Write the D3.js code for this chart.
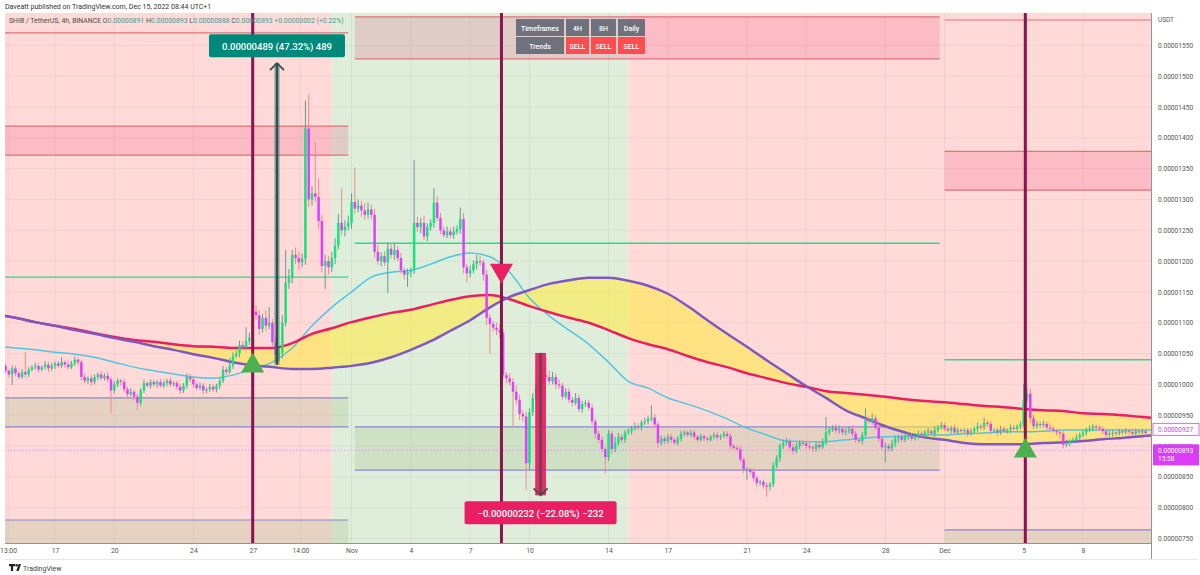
<!DOCTYPE html>
<html>
<head>
<meta charset="utf-8">
<script src="https://cdn.jsdelivr.net/npm/d3@7"></script>
<style>
  body { margin: 0; background: #fff; font-family: Roboto, "Open Sans", sans-serif; }
  svg { display: block; }
</style>
</head>
<body>
<svg width="1200" height="575"></svg>
<script>
/* Helper for UTC dates, month is 0 based like in JS (9 = Oct, 10 = Nov, 11 = Dec) */
function at(m, d, h) { return new Date(Date.UTC(2022, m, d, h || 0)); }

/* ---- Data, all prices in 1e-8 USDT ---- */
/* 4h candles from Oct 14 12:00, open is the previous close */
var firstCandle = at(9, 14, 12);
var firstOpen = 1030;
var closes = [
  1022, 1016, 1026,
  1018, 1012, 1020, 1016, 1024, 1028,
  1030, 1024, 1028, 1032, 1026, 1030,
  1034, 1030, 1036, 1032, 1028, 1034,
  1040, 1036, 1012, 1006, 1010, 1004,
  1012, 1016, 1010, 1014, 1008, 990,
  1000, 1006, 1004, 992, 984, 988,
  980, 970, 990, 1002, 998, 1004,
  1000, 1004, 998, 1002, 1006, 1000,
  1002, 996, 990, 998, 1012, 1008,
  1000, 994, 998, 990, 992, 996,
  992, 998, 1006, 1024, 1020, 1030,
  1046, 1050, 1064, 1060, 1070, 1076,
  1118, 1112, 1090, 1108, 1095, 1100,
  1068, 1048, 1050, 1100, 1165, 1172,
  1210, 1205, 1198, 1204, 1415, 1300,
  1310, 1304, 1265, 1192, 1200, 1190,
  1205, 1225, 1262, 1250, 1256, 1262,
  1296, 1285, 1290, 1282, 1275, 1284,
  1275, 1215, 1200, 1208, 1198, 1220,
  1210, 1218, 1205, 1185, 1178, 1182,
  1185, 1262, 1255, 1262, 1240, 1255,
  1262, 1295, 1270, 1250, 1242, 1248,
  1242, 1248, 1252, 1268, 1190, 1180,
  1185, 1195, 1200, 1198, 1178, 1108,
  1098, 1092, 1088, 1084, 1015, 1010,
  1004, 988, 975, 952, 948, 872,
  955, 978, 995, 1005, 1015, 1012,
  1005, 1012, 1000, 998, 980, 988,
  975, 970, 978, 960, 968, 970,
  962, 940, 920, 910, 895, 882,
  920, 895, 905, 915, 910, 922,
  924, 928, 932, 930, 938, 940,
  944, 946, 935, 905, 912, 908,
  915, 910, 905, 912, 920, 922,
  918, 922, 915, 910, 916, 912,
  910, 915, 918, 914, 916, 920,
  916, 900, 897, 895, 878, 862,
  862, 858, 848, 840, 842, 836,
  834, 838, 868, 880, 900, 905,
  908, 898, 892, 900, 905, 904,
  900, 898, 896, 902, 898, 906,
  922, 926, 930, 925, 928, 922,
  924, 928, 920, 910, 908, 918,
  942, 940, 945, 930, 912, 898,
  900, 896, 904, 912, 915, 910,
  915, 918, 912, 916, 920, 918,
  922, 924, 920, 926, 930, 934,
  928, 925, 930, 922, 926, 924,
  926, 920, 924, 928, 932, 930,
  938, 936, 925, 926, 922, 928,
  924, 926, 930, 928, 932, 935,
  975, 985, 945, 932, 936, 934,
  936, 930, 928, 925, 922, 920,
  902, 905, 908, 910, 914, 918,
  922, 926, 928, 932, 930, 928,
  924, 918, 920, 922, 920, 924,
  922, 925, 923, 920, 924, 922,
  924, 921
];
/* how far each wick sticks out above / below the body */
var hiWick = [
  4, 3, 5,
  4, 3, 5, 32, 4, 3,
  5, 4, 3, 6, 4, 5,
  3, 4, 8, 3, 5, 4,
  5, 3, 4, 6, 3, 5,
  4, 3, 5, 4, 6, 4,
  5, 4, 3, 5, 4, 6,
  3, 5, 4, 6, 3, 4,
  4, 3, 5, 4, 3, 5,
  3, 4, 5, 4, 6, 5,
  4, 3, 5, 4, 3, 5,
  4, 3, 5, 6, 4, 13,
  6, 5, 7, 6, 23, 8,
  67, 10, 8, 6, 12, 25,
  6, 8, 10, 12, 53, 15,
  8, 12, 10, 8, 45, 55,
  12, 83, 30, 10, 10, 8,
  10, 12, 14, 56, 10, 12,
  14, 56, 10, 8, 12, 11,
  8, 10, 12, 6, 8, 10,
  8, 10, 6, 8, 5, 6,
  5, 102, 10, 8, 12, 6,
  6, 23, 10, 8, 6, 8,
  6, 8, 6, 19, 10, 6,
  8, 6, 10, 8, 5, 8,
  6, 5, 8, 10, 6, 5,
  8, 6, 10, 8, 6, 8,
  6, 8, 10, 8, 12, 29,
  10, 8, 6, 8, 5, 6,
  6, 5, 8, 6, 5, 4,
  5, 6, 4, 5, 6, 4,
  6, 5, 10, 6, 5, 4,
  5, 4, 6, 5, 4, 6,
  5, 20, 6, 4, 5, 4,
  4, 5, 3, 4, 5, 4,
  3, 4, 5, 3, 4, 3,
  4, 3, 4, 5, 3, 4,
  4, 5, 3, 4, 5, 3,
  4, 3, 5, 4, 3, 4,
  5, 4, 6, 5, 4, 6,
  5, 4, 6, 5, 4, 5,
  4, 5, 3, 4, 5, 6,
  25, 5, 4, 6, 5, 4,
  5, 4, 6, 5, 4, 5,
  19, 6, 8, 5, 6, 4,
  5, 4, 6, 5, 4, 5,
  4, 5, 3, 4, 5, 4,
  4, 5, 3, 6, 4, 5,
  4, 5, 3, 4, 5, 4,
  3, 4, 5, 4, 6, 4,
  8, 4, 5, 3, 4, 5,
  4, 3, 5, 4, 3, 5,
  25, 10, 8, 6, 5, 4,
  5, 4, 6, 4, 3, 5,
  4, 5, 3, 4, 5, 4,
  5, 4, 6, 4, 3, 4,
  4, 3, 5, 4, 3, 4,
  3, 4, 3, 5, 4, 3,
  4, 3
];
var loWick = [
  4, 5, 17,
  5, 4, 3, 5, 4, 3,
  4, 5, 3, 4, 6, 4,
  5, 3, 4, 5, 4, 3,
  4, 5, 6, 4, 5, 6,
  4, 5, 3, 4, 5, 37,
  5, 4, 6, 5, 4, 3,
  6, 12, 5, 4, 3, 5,
  4, 5, 3, 4, 5, 4,
  3, 5, 6, 4, 5, 4,
  5, 4, 3, 6, 5, 4,
  4, 5, 6, 4, 5, 3,
  5, 4, 6, 5, 4, 6,
  5, 8, 10, 6, 8, 5,
  8, 12, 10, 8, 6, 10,
  8, 10, 12, 8, 10, 12,
  10, 8, 12, 10, 37, 12,
  8, 10, 6, 8, 10, 6,
  10, 8, 6, 10, 8, 6,
  8, 10, 6, 8, 6, 50,
  6, 8, 5, 6, 8, 20,
  8, 6, 8, 10, 6, 8,
  6, 8, 5, 6, 4, 5,
  5, 6, 5, 8, 10, 15,
  6, 5, 8, 6, 10, 12,
  48, 6, 8, 10, 6, 8,
  6, 58, 8, 10, 8, 43,
  10, 6, 8, 6, 5, 8,
  6, 5, 8, 6, 5, 4,
  5, 6, 4, 5, 6, 4,
  5, 6, 8, 5, 6, 26,
  6, 8, 5, 4, 6, 5,
  4, 5, 3, 4, 5, 4,
  5, 4, 6, 8, 4, 5,
  4, 5, 3, 4, 5, 4,
  3, 4, 5, 4, 3, 4,
  4, 3, 4, 5, 4, 3,
  4, 5, 3, 4, 5, 6,
  17, 4, 5, 6, 4, 5,
  16, 6, 5, 4, 6, 5,
  4, 5, 6, 4, 5, 4,
  5, 4, 6, 5, 4, 3,
  4, 5, 3, 4, 5, 4,
  5, 4, 6, 5, 4, 5,
  4, 5, 6, 4, 6, 5,
  24, 5, 4, 5, 6, 4,
  4, 5, 4, 3, 5, 4,
  5, 4, 3, 5, 4, 3,
  4, 3, 5, 4, 3, 4,
  4, 5, 3, 4, 5, 4,
  4, 5, 6, 4, 5, 4,
  3, 4, 5, 3, 4, 5,
  5, 6, 8, 5, 4, 5,
  4, 5, 4, 3, 5, 8,
  6, 4, 5, 3, 4, 5,
  4, 5, 3, 4, 5, 4,
  5, 4, 3, 5, 4, 3,
  4, 3, 5, 4, 3, 4,
  3, 4
];

/* Moving averages, one value per day from Oct 14 */
var maStart = at(9, 14);
var slowMA = [1114, 1108, 1101, 1095, 1090, 1083, 1077, 1072, 1069, 1065, 1062, 1061, 1059, 1059, 1059, 1067, 1082, 1091,
  1101, 1109, 1116, 1121, 1129, 1137, 1143, 1145, 1138, 1127, 1117, 1108, 1100, 1088, 1075, 1065, 1057, 1046, 1036, 1028,
  1018, 1010, 1002, 996, 989, 986, 983, 980, 976, 973,
  971, 968, 965, 963, 960, 958, 957, 953, 952, 950, 947, 945];
var waveMA = [1113, 1108, 1101, 1095, 1088, 1082, 1075, 1069, 1062, 1056, 1049, 1043, 1036, 1031, 1028, 1025, 1025, 1027,
  1030, 1035, 1044, 1056, 1070, 1087, 1104, 1125, 1142, 1153, 1163, 1169, 1173, 1173, 1168, 1160, 1147, 1127, 1104, 1082,
  1061, 1039, 1018, 997, 978, 958, 945, 932, 922, 914,
  910, 905, 903, 903, 903, 905, 906, 908, 911, 913, 916, 918];
var fastMA = [1062, 1059, 1056, 1052, 1049, 1044, 1036, 1028, 1022, 1017, 1012, 1010, 1015, 1025, 1036, 1059, 1095, 1125,
  1150, 1174, 1182, 1185, 1195, 1207, 1213, 1207, 1182, 1140, 1111, 1088, 1065, 1036, 1005, 994, 978, 968, 957, 944,
  929, 918, 908, 907, 907, 910, 913, 915, 916, 918,
  918, 920, 921, 923, 923, 924, 926, 926, 926, 926, 926, 926];

/* Trend background: from, to, state */
var regimes = [[at(9, 14), at(9, 31), "sell"], [at(9, 31), at(10, 15), "buy"], [at(10, 15), at(11, 12), "sell"]];

/* Support / resistance drawings, grouped by time span */
var levelSpans = [[at(9, 14), at(9, 31, 20)], [at(10, 1, 4), at(10, 30, 18)], [at(11, 1), at(11, 12)]];
var resistZones = [[0, 1372, 1419], [1, 1528, 1596], [2, 1315, 1378]];
var resistLines = [[0, 1570], [2, 1591]];
var pivotLines = [[0, 1174], [1, 1229], [2, 1040]];
var supportZones = [[0, 931, 978], [0, 600, 780], [1, 861, 931], [2, 600, 764]];

/* Signals */
var signalDates = [at(9, 27), at(10, 8, 14), at(11, 5, 2)];
var signalPrices = [1030, 1185, 892];
var signalDirs = ["buy", "sell", "buy"];

/* Price range measurements */
var measures = [
  {t0: at(9, 28, 2), t1: at(9, 28, 9), from: 1032, to: 1521, text: "0.00000489 (47.32%) 489"},
  {t0: at(10, 10, 7), t1: at(10, 10, 20), from: 1051, to: 820, text: "\u22120.00000232 (\u221222.08%) \u2212232"}
];

/* Axis ticks */
var priceTicks = [750, 800, 850, 900, 950, 1000, 1050, 1100, 1150, 1200, 1250, 1300, 1350, 1400, 1450, 1500, 1550];
var timeTickDates = [at(9, 14, 15), at(9, 17), at(9, 20), at(9, 24), at(9, 27), at(9, 29, 10), at(10, 1), at(10, 4),
  at(10, 7), at(10, 10), at(10, 14), at(10, 17), at(10, 21), at(10, 24), at(10, 28), at(11, 1), at(11, 5), at(11, 8)];
var timeTickLabels = ["13:00", "17", "20", "24", "27", "14:00", "Nov", "4", "7", "10", "14", "17", "21", "24", "28", "Dec", "5", "8"];

/* Trend table */
var tableHead = ["Timeframes", "4H", "8H", "Daily"];
var tableRow = ["Trends", "SELL", "SELL", "SELL"];

var lastClose = 893, maLast = 927, countdown = "15:58";

/* ---- Layout ---- */
var svg = d3.select("svg"),
    plot = {left: 5, right: 1151, top: 13, bottom: 543};

/* 4h bars: Oct 17 sits at x=55 and Dec 8 at x=1083 */
var x = d3.scaleUtc().domain([at(9, 17), at(11, 8)]).range([55, 1083]);
var y = d3.scaleLinear().domain([750, 1550]).range([538.5, 45.3]);
var fmt = function(p) { return (p * 1e-8).toFixed(8); };

svg.append("rect").attr("width", 1200).attr("height", 575).attr("fill", "#fff");

svg.append("clipPath").attr("id", "plotclip").append("rect")
    .attr("x", plot.left).attr("y", plot.top)
    .attr("width", plot.right - plot.left).attr("height", plot.bottom - plot.top);

var g = svg.append("g").attr("clip-path", "url(#plotclip)");

/* background trend colours */
g.selectAll(".regime").data(regimes).enter().append("rect")
    .attr("x", function(d) { return x(d[0]); })
    .attr("width", function(d) { return x(d[1]) - x(d[0]); })
    .attr("y", plot.top).attr("height", plot.bottom - plot.top)
    .attr("fill", function(d) { return d[2] === "buy" ? "#dfeedb" : "#ffdad9"; });

/* grid */
g.selectAll(".vgrid").data(timeTickDates).enter().append("line")
    .attr("x1", function(d) { return x(d); }).attr("x2", function(d) { return x(d); })
    .attr("y1", plot.top).attr("y2", plot.bottom)
    .attr("stroke", "rgba(60,40,40,0.06)");
g.selectAll(".hgrid").data(priceTicks).enter().append("line")
    .attr("x1", plot.left).attr("x2", plot.right)
    .attr("y1", function(d) { return y(d); }).attr("y2", function(d) { return y(d); })
    .attr("stroke", "rgba(60,40,40,0.06)");

function spanX(i) { return x(levelSpans[i][0]); }
function spanW(i) { return x(levelSpans[i][1]) - x(levelSpans[i][0]); }

/* support zones (tan) with blue border lines */
supportZones.forEach(function(z) {
  g.append("rect").attr("x", spanX(z[0])).attr("width", spanW(z[0]))
      .attr("y", y(z[2])).attr("height", y(z[1]) - y(z[2]))
      .attr("fill", "rgba(160,190,130,0.26)");
  [z[1], z[2]].forEach(function(p) {
    g.append("line").attr("x1", spanX(z[0])).attr("x2", spanX(z[0]) + spanW(z[0]))
        .attr("y1", y(p)).attr("y2", y(p))
        .attr("stroke", "#8c86cc").attr("stroke-width", 1.2);
  });
});

/* resistance zones (pink) with red border lines */
resistZones.forEach(function(z) {
  g.append("rect").attr("x", spanX(z[0])).attr("width", spanW(z[0]))
      .attr("y", y(z[2])).attr("height", y(z[1]) - y(z[2]))
      .attr("fill", "rgba(233,30,99,0.16)");
  [z[1], z[2]].forEach(function(p) {
    g.append("line").attr("x1", spanX(z[0])).attr("x2", spanX(z[0]) + spanW(z[0]))
        .attr("y1", y(p)).attr("y2", y(p))
        .attr("stroke", "#e0707a").attr("stroke-width", 1.2);
  });
});
resistLines.forEach(function(l) {
  g.append("line").attr("x1", spanX(l[0])).attr("x2", spanX(l[0]) + spanW(l[0]))
      .attr("y1", y(l[1])).attr("y2", y(l[1]))
      .attr("stroke", "#e0707a").attr("stroke-width", 1.2);
});
pivotLines.forEach(function(l) {
  g.append("line").attr("x1", spanX(l[0])).attr("x2", spanX(l[0]) + spanW(l[0]))
      .attr("y1", y(l[1])).attr("y2", y(l[1]))
      .attr("stroke", "#2fd88a").attr("stroke-width", 1.4);
});

/* current price dotted line */
g.append("line").attr("x1", plot.left).attr("x2", plot.right)
    .attr("y1", y(lastClose)).attr("y2", y(lastClose))
    .attr("stroke", "#e040fb").attr("stroke-opacity", 0.55).attr("stroke-dasharray", "1,2");

/* moving averages */
var maData = slowMA.map(function(v, i) {
  return {t: d3.utcDay.offset(maStart, i), slow: v, wave: waveMA[i], fast: fastMA[i]};
});
g.append("path").datum(maData)
    .attr("fill", "rgba(255,235,59,0.55)")
    .attr("d", d3.area().curve(d3.curveMonotoneX)
      .x(function(d) { return x(d.t); })
      .y0(function(d) { return y(d.slow); })
      .y1(function(d) { return y(d.wave); }));

function maLine(key, color, w) {
  g.append("path").datum(maData)
      .attr("fill", "none").attr("stroke", color).attr("stroke-width", w)
      .attr("d", d3.line().curve(d3.curveMonotoneX)
        .x(function(d) { return x(d.t); })
        .y(function(d) { return y(d[key]); }));
}
maLine("fast", "#4fc6e3", 1.5);
maLine("slow", "#e91e63", 2.5);
maLine("wave", "#7e57c2", 2.5);

/* candles */
var candles = closes.map(function(c, i) {
  var o = i ? closes[i - 1] : firstOpen;
  return {t: d3.utcHour.offset(firstCandle, 4 * i), o: o, c: c,
          h: Math.max(o, c) + hiWick[i], l: Math.min(o, c) - loWick[i]};
});
var cg = g.append("g");
cg.selectAll(".wick").data(candles).enter().append("line")
    .attr("x1", function(d) { return x(d.t); }).attr("x2", function(d) { return x(d.t); })
    .attr("y1", function(d) { return y(d.h); }).attr("y2", function(d) { return y(d.l); })
    .attr("stroke", function(d) { return d.c >= d.o ? "#5f9d97" : "#ef8a86"; })
    .attr("stroke-width", 1);
cg.selectAll(".body").data(candles).enter().append("rect")
    .attr("x", function(d) { return x(d.t) - 1.25; })
    .attr("width", 2.5)
    .attr("y", function(d) { return y(Math.max(d.o, d.c)); })
    .attr("height", function(d) { return Math.max(1, Math.abs(y(d.o) - y(d.c))); })
    .attr("fill", function(d) { return d.c >= d.o ? "#12e57a" : "#e040fb"; });

/* signal lines and triangles */
g.selectAll(".sigline").data(signalDates).enter().append("line")
    .attr("x1", function(d) { return x(d); }).attr("x2", function(d) { return x(d); })
    .attr("y1", plot.top).attr("y2", plot.bottom)
    .attr("stroke", "#8a1450").attr("stroke-width", 3);
g.selectAll(".sig").data(signalDates).enter().append("path")
    .attr("d", d3.symbol(d3.symbolTriangle).size(230))
    .attr("transform", function(d, i) {
      return "translate(" + x(d) + "," + y(signalPrices[i]) + ")" + (signalDirs[i] === "sell" ? " rotate(180)" : "");
    })
    .attr("fill", function(d, i) { return signalDirs[i] === "sell" ? "#e91e63" : "#4caf50"; });

/* price range tools */
measures.forEach(function(m) {
  var x0 = x(m.t0), x1 = x(m.t1), cx = (x0 + x1) / 2,
      up = m.to > m.from, yTop = y(Math.max(m.from, m.to)), yBot = y(Math.min(m.from, m.to));
  g.append("rect").attr("x", x0).attr("width", x1 - x0).attr("y", yTop).attr("height", yBot - yTop)
      .attr("fill", up ? "rgba(0,121,107,0.35)" : "#e91e63").attr("opacity", up ? 1 : 0.95);
  var ya = y(m.to), dir = up ? 1 : -1;
  g.append("line").attr("x1", cx).attr("x2", cx).attr("y1", y(m.from)).attr("y2", ya)
      .attr("stroke", up ? "#2e4f4c" : "#4b4b4b").attr("stroke-width", up ? 2.5 : 2);
  g.append("path")
      .attr("d", "M" + (cx - 7) + "," + (ya + 7 * dir) + "L" + cx + "," + ya + "L" + (cx + 7) + "," + (ya + 7 * dir))
      .attr("fill", "none").attr("stroke", up ? "#2e4f4c" : "#4b4b4b").attr("stroke-width", 1.8);

  var lab = svg.append("g");
  var t = lab.append("text").attr("x", cx).attr("text-anchor", "middle")
      .attr("font-size", 9.5).attr("font-weight", 500).attr("fill", "#fff").text(m.text);
  var w = t.node().getComputedTextLength() + 26, h = 23,
      by = up ? yTop - 6 - h : yBot + 6;
  lab.insert("rect", "text").attr("x", cx - w / 2).attr("y", by).attr("width", w).attr("height", h)
      .attr("rx", 2).attr("fill", up ? "#00897b" : "#e91e63");
  t.attr("y", by + 15.5);
});

/* ---- Axes ---- */
svg.append("rect").attr("x", plot.right + 1).attr("y", 0).attr("width", 1200 - plot.right).attr("height", 561)
    .attr("fill", "#fff");
svg.append("rect").attr("x", 0).attr("y", plot.bottom).attr("width", 1200).attr("height", 18).attr("fill", "#fff");

var yAxis = svg.append("g").attr("transform", "translate(" + (plot.right + 1) + ",0)")
    .call(d3.axisRight(y).tickValues(priceTicks).tickFormat(fmt).tickSize(0).tickPadding(6));
yAxis.select(".domain").remove();
yAxis.selectAll("text").attr("font-size", 6.6).attr("fill", "#555").attr("font-family", "Roboto, sans-serif");

var xAxis = svg.append("g").attr("transform", "translate(0," + plot.bottom + ")")
    .call(d3.axisBottom(x).tickValues(timeTickDates)
      .tickFormat(function(d, i) { return timeTickLabels[i]; }).tickSize(0).tickPadding(5));
xAxis.select(".domain").remove();
xAxis.selectAll("text").attr("font-size", 6.8).attr("fill", "#555").attr("font-family", "Roboto, sans-serif");

/* axis frame lines */
svg.append("line").attr("x1", plot.right + 0.5).attr("x2", plot.right + 0.5).attr("y1", 13).attr("y2", 559)
    .attr("stroke", "#777").attr("stroke-width", 0.8);
svg.append("line").attr("x1", 5).attr("x2", plot.right).attr("y1", plot.bottom + 0.5).attr("y2", plot.bottom + 0.5)
    .attr("stroke", "#777").attr("stroke-width", 0.8);
svg.append("line").attr("x1", 5).attr("x2", 1198).attr("y1", 559.5).attr("y2", 559.5)
    .attr("stroke", "#e6e8ee").attr("stroke-width", 1);

svg.append("text").attr("x", plot.right + 7).attr("y", 22).attr("font-size", 6.4).attr("fill", "#555").text("USDT");

/* last value tags on the price scale (the close tag sits over the 900 tick, as in TradingView) */
svg.append("rect").attr("x", plot.right + 2).attr("y", y(maLast) - 6).attr("width", 46).attr("height", 12)
    .attr("fill", "#fff").attr("stroke", "#e066f5").attr("stroke-width", 1);
svg.append("text").attr("x", plot.right + 7).attr("y", y(maLast) + 2.4)
    .attr("font-size", 6.6).attr("fill", "#d63cf2").text(fmt(maLast));
svg.append("rect").attr("x", plot.right + 2).attr("y", y(lastClose) - 6).attr("width", 46).attr("height", 21)
    .attr("fill", "#dc3cf7");
svg.append("text").attr("x", plot.right + 7).attr("y", y(lastClose) + 2.4)
    .attr("font-size", 6.6).attr("fill", "#fff").text(fmt(lastClose));
svg.append("text").attr("x", plot.right + 7).attr("y", y(lastClose) + 11)
    .attr("font-size", 6.6).attr("fill", "#fff").text(countdown);

/* ---- Header texts ---- */
svg.append("text").attr("x", 5).attr("y", 9).attr("font-size", 7).attr("fill", "#333")
    .text("Daveatt published on TradingView.com, Dec 15, 2022 08:44 UTC+1");

var legend = svg.append("text").attr("x", 9).attr("y", 23).attr("font-size", 6.9).attr("fill", "#4a4a4a");
legend.append("tspan").text("SHIB / TetherUS, 4h, BINANCE  ");
[["O", "0.00000891"], ["H", "0.00000893"], ["L", "0.00000888"], ["C", "0.00000893"]].forEach(function(p) {
  legend.append("tspan").text(p[0]);
  legend.append("tspan").attr("fill", "#3e9a8f").text(p[1] + "  ");
});
legend.append("tspan").attr("fill", "#3e9a8f").text("+0.00000002 (+0.22%)");

/* ---- Trend table ---- */
var colW = [48, 23, 25, 27], tx = 516;
var table = svg.append("g");
[tableHead, tableRow].forEach(function(row, r) {
  var cx = tx;
  row.forEach(function(cell, c) {
    var sell = cell === "SELL";
    table.append("rect").attr("x", cx).attr("y", 19 + r * 18).attr("width", colW[c]).attr("height", 17)
        .attr("fill", sell ? "#ff4d4f" : "#6f727d");
    table.append("text").attr("x", cx + colW[c] / 2).attr("y", 30.5 + r * 18)
        .attr("text-anchor", "middle").attr("font-size", 7).attr("font-weight", 500)
        .attr("fill", "#fff").text(cell);
    cx += colW[c] + 2;
  });
});

/* ---- Footer logo ---- */
var logo = svg.append("g").attr("fill", "#222");
logo.append("path").attr("d", "M9,564h6v2.2h-1.9v4.8h-2.2v-4.8h-1.9z");
logo.append("circle").attr("cx", 16.6).attr("cy", 565.3).attr("r", 1.2);
logo.append("path").attr("d", "M18.6,564h2.4l-2.3,7h-2.4z");
svg.append("text").attr("x", 23).attr("y", 570.5).attr("font-size", 7).attr("fill", "#444").text("TradingView");
</script>
</body>
</html>
